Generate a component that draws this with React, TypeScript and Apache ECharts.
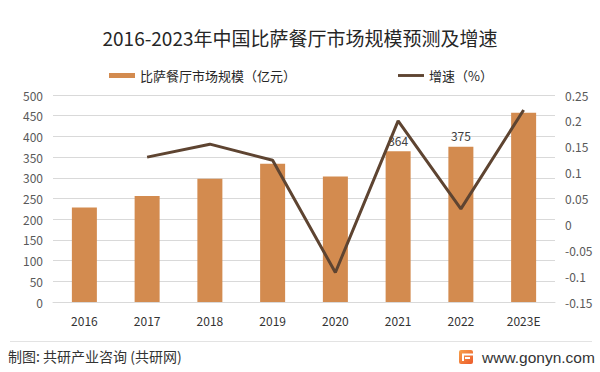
import React, { useEffect, useRef } from "react";
import * as echarts from "echarts";

const titleText = "2016-2023年中国比萨餐厅市场规模预测及增速";
const categories = ["2016", "2017", "2018", "2019", "2020", "2021", "2022", "2023E"];
const marketSize = [228, 256, 298, 334, 303, 364, 375, 457];
const growthRate = [null, 0.13, 0.155, 0.124, -0.093, 0.2, 0.03, 0.221];
const labeledCategories = ["2021", "2022"];
const barName = "比萨餐厅市场规模（亿元）";
const lineName = "增速（%）";
const footerLeft = "制图: 共研产业咨询 (共研网)";
const footerRight = "www.gonyn.com";

const FONT = "'Noto Sans CJK SC', 'Noto Sans', sans-serif";

export default function App() {
  const ref = useRef<HTMLDivElement>(null);

  useEffect(() => {
    if (!ref.current) return;
    const chart = echarts.init(ref.current, undefined, { renderer: "svg" });

    const barData = marketSize.map((v, i) => ({
      value: v,
      label: { show: labeledCategories.includes(categories[i]) },
    }));

    chart.setOption({
      animation: false,
      backgroundColor: "#ffffff",
      textStyle: { fontFamily: FONT },
      title: {
        text: titleText,
        left: "center",
        top: 23,
        textStyle: { fontSize: 19, fontWeight: "normal", color: "#262626", fontFamily: FONT },
      },
      legend: {
        left: 104,
        top: 64,
        itemWidth: 26,
        itemHeight: 5,
        itemGap: 102,
        textStyle: { fontSize: 13, color: "#262626", fontFamily: FONT },
        data: [
          { name: barName, icon: "rect" },
          { name: lineName, icon: "path://M0 0 H27 V3 H0 Z" },
        ],
      },
      grid: { left: 53, right: 45, top: 95, bottom: 70 },
      xAxis: {
        type: "category",
        data: categories,
        axisLine: { show: true, lineStyle: { color: "#d9d9d9" } },
        axisTick: { show: false },
        axisLabel: { fontSize: 12, color: "#333333", margin: 12, fontFamily: FONT },
      },
      yAxis: [
        {
          type: "value",
          min: 0,
          max: 500,
          interval: 50,
          axisLine: { show: false },
          axisTick: { show: false },
          axisLabel: { fontSize: 12, color: "#595959", margin: 10, fontFamily: FONT },
          splitLine: { lineStyle: { color: "#d9d9d9" } },
        },
        {
          type: "value",
          min: -0.15,
          max: 0.25,
          interval: 0.05,
          axisLine: { show: false },
          axisTick: { show: false },
          axisLabel: {
            fontSize: 12,
            color: "#595959",
            margin: 10,
            fontFamily: FONT,
            formatter: (v: number) => String(Math.round(v * 100) / 100),
          },
          splitLine: { show: false },
        },
      ],
      series: [
        {
          name: barName,
          type: "bar",
          data: barData,
          barWidth: 25,
          itemStyle: { color: "#D38B4F" },
          label: {
            show: false,
            position: "top",
            distance: 5,
            fontSize: 12,
            color: "#404040",
            fontFamily: FONT,
          },
          z: 2,
        },
        {
          name: lineName,
          type: "line",
          yAxisIndex: 1,
          data: growthRate,
          symbol: "none",
          showSymbol: false,
          lineStyle: { color: "#5E4431", width: 3 },
          itemStyle: { color: "#5E4431" },
          z: 3,
        },
      ],
      graphic: [
        {
          type: "line",
          shape: { x1: 10, y1: 341.5, x2: 592, y2: 341.5 },
          style: { stroke: "#e3e3e3", lineWidth: 1 },
        },
        {
          type: "text",
          left: 8,
          top: 349,
          style: { text: footerLeft, fontSize: 14, fill: "#333333", fontFamily: FONT },
        },
        {
          type: "group",
          left: 459,
          top: 350,
          children: [
            {
              type: "rect",
              shape: { x: 0, y: 0, width: 14, height: 14, r: 2 },
              style: {
                fill: new echarts.graphic.LinearGradient(0, 0, 1, 1, [
                  { offset: 0, color: "#f7a14a" },
                  { offset: 1, color: "#ec5a2c" },
                ]),
              },
            },
            { type: "rect", shape: { x: 3, y: 3.5, width: 11, height: 2 }, style: { fill: "#ffffff" } },
            { type: "rect", shape: { x: 6, y: 7, width: 5, height: 2 }, style: { fill: "#ffffff" } },
            { type: "rect", shape: { x: 3, y: 5, width: 2, height: 6 }, style: { fill: "#ffffff" } },
          ],
        },
        {
          type: "text",
          left: 482,
          top: 349,
          style: { text: footerRight, fontSize: 15.5, fill: "#333333", fontFamily: "'Liberation Sans', Arial, sans-serif" },
        },
      ],
    });

    return () => chart.dispose();
  }, []);

  return (
    <div
      ref={ref}
      style={{ position: "absolute", left: 0, top: 0, width: 600, height: 372 }}
    />
  );
}
